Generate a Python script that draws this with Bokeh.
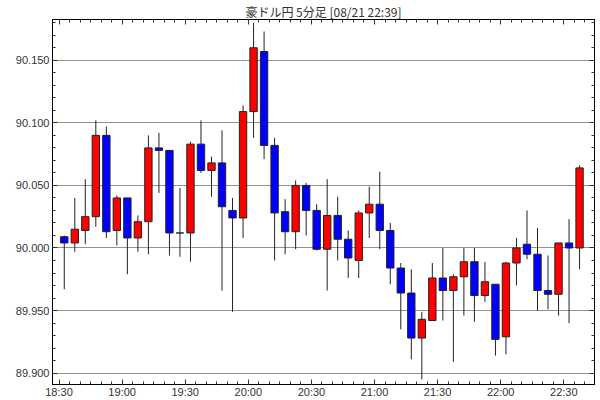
import pandas as pd
from bokeh.plotting import figure
from bokeh.models import (ColumnDataSource, FixedTicker, DatetimeTickFormatter, LinearAxis,
                          DatetimeAxis, PrintfTickFormatter, Range1d)
from bokeh.embed import file_html
from bokeh.resources import INLINE

DATE = "2024-08-21"
title_text = "豪ドル円 5分足 [08/21 22:39]"

times = ["18:30", "18:35", "18:40", "18:45", "18:50", "18:55",
         "19:00", "19:05", "19:10", "19:15", "19:20", "19:25",
         "19:30", "19:35", "19:40", "19:45", "19:50", "19:55",
         "20:00", "20:05", "20:10", "20:15", "20:20", "20:25",
         "20:30", "20:35", "20:40", "20:45", "20:50", "20:55",
         "21:00", "21:05", "21:10", "21:15", "21:20", "21:25",
         "21:30", "21:35", "21:40", "21:45", "21:50", "21:55",
         "22:00", "22:05", "22:10", "22:15", "22:20", "22:25",
         "22:30", "22:35"]

opens = [90.009, 90.004, 90.014, 90.025, 90.090, 90.014, 90.040, 90.008, 90.021, 90.080,
         90.078, 90.012, 90.012, 90.083, 90.062, 90.068, 90.030, 90.024, 90.109, 90.157,
         90.082, 90.029, 90.013, 90.050, 90.030, 89.999, 90.026, 90.007, 89.990, 90.028,
         90.035, 90.014, 89.984, 89.964, 89.928, 89.942, 89.976, 89.966, 89.977, 89.989,
         89.962, 89.971, 89.929, 89.988, 90.003, 89.995, 89.966, 89.963, 90.004, 90.000]
highs = [90.010, 90.040, 90.055, 90.102, 90.097, 90.042, 90.040, 90.026, 90.090, 90.092,
         90.078, 90.048, 90.085, 90.102, 90.073, 90.094, 90.040, 90.114, 90.180, 90.173,
         90.088, 90.039, 90.054, 90.052, 90.035, 90.055, 90.041, 90.014, 90.030, 90.049,
         90.061, 90.020, 89.988, 89.983, 89.949, 89.988, 90.000, 89.979, 90.000, 90.000,
         89.989, 89.971, 89.989, 90.008, 90.030, 90.016, 89.994, 90.004, 90.023, 90.066]
lows = [89.967, 89.997, 90.003, 90.017, 90.008, 90.002, 89.979, 89.997, 89.995, 90.044,
        89.994, 89.993, 89.989, 90.060, 90.041, 89.966, 89.949, 90.008, 90.088, 90.071,
        89.990, 89.995, 89.999, 90.010, 89.998, 89.966, 89.990, 89.976, 89.976, 90.008,
        89.999, 89.971, 89.935, 89.911, 89.895, 89.942, 89.942, 89.909, 89.946, 89.941,
        89.957, 89.914, 89.915, 89.970, 89.991, 89.950, 89.951, 89.946, 89.940, 89.983]
closes = [90.004, 90.015, 90.025, 90.090, 90.013, 90.040, 90.008, 90.021, 90.080, 90.078,
          90.012, 90.012, 90.083, 90.062, 90.068, 90.033, 90.024, 90.109, 90.160, 90.082,
          90.028, 90.013, 90.050, 90.030, 89.999, 90.026, 90.007, 89.992, 90.028, 90.035,
          90.014, 89.984, 89.964, 89.928, 89.943, 89.976, 89.966, 89.977, 89.989, 89.962,
          89.973, 89.927, 89.988, 90.000, 89.995, 89.966, 89.963, 90.004, 90.000, 90.064]

x_tick_labels = ["18:30", "19:00", "19:30", "20:00", "20:30", "21:00", "21:30", "22:00", "22:30"]
x_minor_labels = times + ["22:40"]
y_ticks = [89.90, 89.95, 90.00, 90.05, 90.10, 90.15]
y_minor_ticks = [round(89.89 + 0.01 * k, 2) for k in range(30)]

UP = "#ff0000"
DOWN = "#0000ff"
EDGE = "#222222"

EPOCH = pd.Timestamp("1970-01-01")
def to_ms(ts):
    return (ts - EPOCH) / pd.Timedelta(milliseconds=1)

t_start = pd.to_datetime([f"{DATE} {s}" for s in times])
t_mid = t_start + pd.Timedelta(minutes=2.5)

colors = []
for o, c in zip(opens, closes):
    colors.append(UP if c > o else (DOWN if c < o else EDGE))

src = ColumnDataSource(dict(
    x=t_mid, open=opens, close=closes, high=highs, low=lows,
    top=[max(o, c) for o, c in zip(opens, closes)],
    bottom=[min(o, c) for o, c in zip(opens, closes)],
    color=colors,
))

t0 = pd.Timestamp(f"{DATE} {times[0]}")
x_lo = t0 - pd.Timedelta(minutes=3.1)
x_hi = t0 + pd.Timedelta(minutes=254.6)

p = figure(width=600, height=400, x_axis_type="datetime",
           output_backend="svg", toolbar_location=None,
           x_range=Range1d(x_lo.to_pydatetime(), x_hi.to_pydatetime()),
           y_range=Range1d(89.8909, 90.1826))
p.min_border_left = 52
p.min_border_right = 6
p.min_border_top = 15
p.min_border_bottom = 13
p.outline_line_color = "black"
p.outline_line_width = 1
p.background_fill_color = "white"
p.border_fill_color = "white"

p.title.text = title_text
p.title.align = "center"
p.title.text_font = "Noto Sans CJK JP"
p.title.text_font_size = "12px"
p.title.text_font_style = "normal"
p.title.text_color = "#333333"
p.title.text_line_height = 1.0
p.title.standoff = 0
p.title.offset = 0

xt = FixedTicker(ticks=[to_ms(pd.Timestamp(f"{DATE} {s}")) for s in x_tick_labels],
                 minor_ticks=[to_ms(pd.Timestamp(f"{DATE} {s}")) for s in x_minor_labels])
yt = FixedTicker(ticks=y_ticks, minor_ticks=y_minor_ticks)
fmt_t = DatetimeTickFormatter(seconds="%H:%M", minsec="%H:%M", minutes="%H:%M",
                              hourmin="%H:%M", hours="%H:%M", days="%H:%M",
                              months="%H:%M", years="%H:%M")

FONT = "Liberation Sans"

def style(ax):
    ax.axis_line_color = "black"
    ax.major_tick_line_color = "#333333"
    ax.minor_tick_line_color = "#333333"
    ax.major_tick_in = 5
    ax.major_tick_out = 0
    ax.minor_tick_in = 3
    ax.minor_tick_out = 0
    ax.major_label_text_font = FONT
    ax.major_label_text_font_size = "11px"
    ax.major_label_text_color = "#333333"

xa = p.xaxis[0]
xa.ticker = xt
xa.formatter = fmt_t
style(xa)
xa.major_label_standoff = 1

ya = p.yaxis[0]
ya.ticker = yt
ya.formatter = PrintfTickFormatter(format="%.3f")
style(ya)
ya.major_label_standoff = 3

ra = LinearAxis(ticker=yt)
style(ra)
ra.major_label_text_font_size = "1px"
ra.major_label_text_color = None
ra.major_label_standoff = 0
p.add_layout(ra, "right")

ta = DatetimeAxis(ticker=xt, formatter=fmt_t)
style(ta)
ta.major_label_text_font_size = "1px"
ta.major_label_text_color = None
ta.major_label_standoff = 0
p.add_layout(ta, "above")

p.xgrid.visible = False
p.ygrid.grid_line_color = "#222222"
p.ygrid.grid_line_dash = "1 1"
p.ygrid.grid_line_width = 1

p.segment(x0="x", y0="low", x1="x", y1="high", source=src, line_color="#222222", line_width=1)
p.vbar(x="x", width=3.5 * 60 * 1000, top="top", bottom="bottom", source=src,
       fill_color="color", line_color=EDGE, line_width=1)

open("out.html", "w").write(file_html(p, INLINE))
